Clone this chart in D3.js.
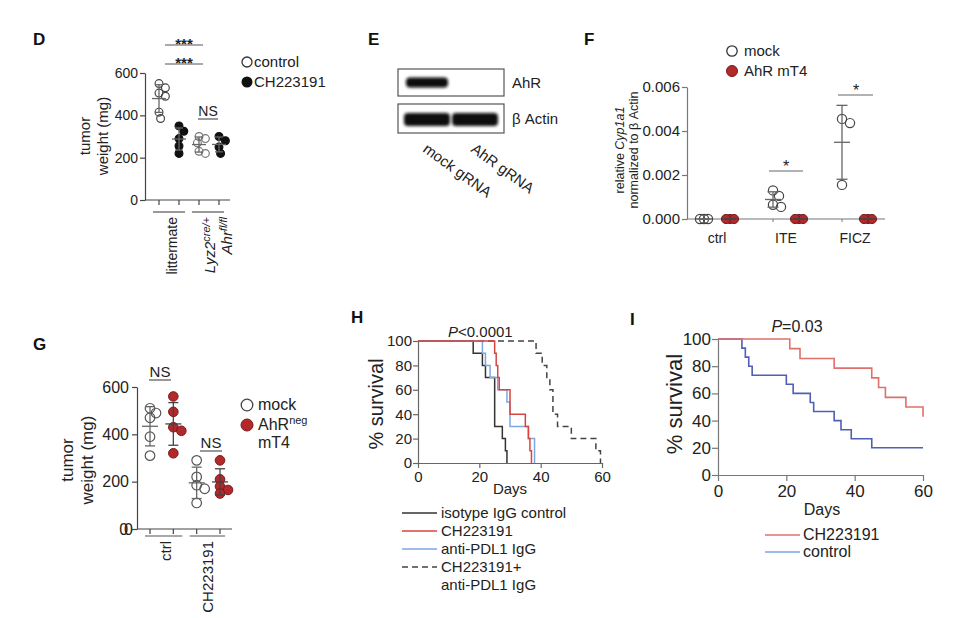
<!DOCTYPE html>
<html><head><meta charset="utf-8">
<script src="https://cdn.jsdelivr.net/npm/d3@7"></script>
<style>
body{margin:0;background:#fff}
svg{display:block;font-family:"Liberation Sans",Arial,Helvetica,sans-serif}
</style></head><body>
<svg id="c" width="960" height="618"></svg>
<script>
// ================= DATA =================
// Panel D – tumor weight (mg)
const dGroups = ["littermate control", "littermate CH223191", "Lyz2 control", "Lyz2 CH223191"];
const dLittermateControl = [550, 530, 505, 490, 415, 385];
const dLittermateCH = [350, 325, 290, 255, 220];
const dLyz2Control = [300, 290, 270, 230, 220];
const dLyz2CH = [300, 280, 250, 220];
const dTicks = [0, 200, 400, 600];
const dSigLabels = ["***", "***", "NS"];
const dLegend = ["control", "CH223191"];

// Panel E – western blot
const blotLanes = ["mock gRNA", "AhR gRNA"];
const blotRows = ["AhR", "β Actin"];
const blotAhR = [1, 0];
const blotActin = [1, 1];

// Panel F – relative Cyp1a1
const fGroups = ["ctrl", "ITE", "FICZ"];
const fMock = [[0, 0, 0], [0.0013, 0.00105, 0.00065, 0.00055], [0.00455, 0.00436, 0.00155]];
const fAhR = [[0, 0, 0], [0, 0, 0], [0, 0, 0]];
const fTicks = [0, 0.002, 0.004, 0.006];
const fLegend = ["mock", "AhR mT4"];

// Panel G – tumor weight (mg)
const gGroups = ["ctrl mock", "ctrl AhRneg", "CH223191 mock", "CH223191 AhRneg"];
const gCtrlMock = [510, 490, 470, 390, 310];
const gCtrlAhR = [560, 495, 430, 415, 320];
const gCHMock = [290, 220, 185, 170, 110];
const gCHAhR = [290, 210, 180, 165, 150];
const gTicks = [0, 200, 400, 600];
const gTickLabels = ["00", "200", "400", "600"];
const gXLabels = ["ctrl", "CH223191"];

// Panel H – survival
const hIsotypeDays = [0, 18, 21, 22, 25, 27.5, 28.5, 29];
const hIsotypeSurv = [100, 90, 80, 70, 30, 20, 10, 0];
const hCHDays = [0, 25, 25.5, 26, 26.5, 30, 35, 36, 36.5, 37];
const hCHSurv = [100, 90, 80, 70, 60, 40, 30, 20, 10, 0];
const hPDL1Days = [0, 21, 22, 23.5, 26, 29, 30, 36, 38];
const hPDL1Surv = [100, 90, 80, 70, 60, 50, 30, 20, 0];
const hComboDays = [0, 38.5, 40.5, 42, 43, 44, 45.5, 50, 58, 59.5];
const hComboSurv = [100, 90, 80, 70, 60, 40, 30, 20, 10, 0];
const hLegend = ["isotype IgG control", "CH223191", "anti-PDL1 IgG", "CH223191+", "anti-PDL1 IgG"];

// Panel I – survival
const iCHDays = [0, 21, 24, 34, 45, 47, 49, 55, 60];
const iCHSurv = [100, 92.9, 85.7, 78.6, 71.4, 64.3, 57.1, 50, 42.9];
const iControlDays = [0, 7, 8, 9, 10, 20, 22, 27, 28, 34, 36, 39, 45, 60];
const iControlSurv = [100, 93.3, 86.7, 80, 73.3, 66.7, 60, 53.3, 46.7, 40, 33.3, 26.7, 20, 20];
const survTicksY = [0, 20, 40, 60, 80, 100];
const survTicksX = [0, 20, 40, 60];
const iLegend = ["CH223191", "control"];

// ================= HELPERS =================
const TXT = "#222", AX = "#444", RED = "#b3282a";
const svg = d3.select("#c");
svg.append("rect").attr("width", 960).attr("height", 618).attr("fill", "#fff");
const defs = svg.append("defs");
defs.append("filter").attr("id", "blur").attr("x", "-30%").attr("y", "-80%")
  .attr("width", "160%").attr("height", "260%")
  .append("feGaussianBlur").attr("stdDeviation", 1.4);

function txt(g, x, y, s, o = {}) {
  const t = g.append("text").attr("x", x).attr("y", y).text(s)
    .attr("font-size", o.size || 14).attr("fill", o.fill || TXT);
  if (o.anchor) t.attr("text-anchor", o.anchor);
  if (o.weight) t.attr("font-weight", o.weight);
  if (o.style) t.attr("font-style", o.style);
  return t;
}
function vtxt(g, x, y, s, o = {}) {
  const t = g.append("text").attr("transform", `translate(${x},${y}) rotate(-90)`)
    .attr("dy", "0.35em").attr("text-anchor", o.anchor || "middle")
    .attr("font-size", o.size || 14).attr("fill", o.fill || TXT);
  if (s !== null) t.text(s);
  if (o.style) t.attr("font-style", o.style);
  return t;
}
function styleAxis(g, size, color) {
  g.attr("font-family", null).attr("font-size", null);
  g.select(".domain").attr("stroke", color).attr("stroke-width", 1.2);
  g.selectAll(".tick line").attr("stroke", color).attr("stroke-width", 1.2);
  g.selectAll(".tick text").attr("font-size", size).attr("fill", TXT);
}
function hline(g, x1, x2, y, color, w) {
  g.append("line").attr("x1", x1).attr("x2", x2).attr("y1", y).attr("y2", y)
    .attr("stroke", color || AX).attr("stroke-width", w || 1.2);
}
function swarm(values, y, d, step) {
  const pts = values.map(v => ({ v, y: y(v) })).sort((a, b) => a.y - b.y);
  const cands = [0];
  for (let k = 1; k <= 14; k++) cands.push(k * step, -k * step);
  const placed = [];
  pts.forEach(p => {
    p.dx = 0;
    for (const c of cands) {
      if (placed.every(q => Math.hypot(q.dx - c, q.y - p.y) >= d - 0.01)) { p.dx = c; break; }
    }
    placed.push(p);
  });
  return pts;
}
function dots(g, values, xc, y, o) {
  g.append("g").selectAll("circle").data(swarm(values, y, o.d, o.step)).join("circle")
    .attr("cx", p => xc + p.dx).attr("cy", p => p.y).attr("r", o.r)
    .attr("fill", o.fill).attr("stroke", o.stroke).attr("stroke-width", o.sw || 1.2);
}
function errBar(g, values, xc, y, o) {
  const m = d3.mean(values), s = values.length > 1 ? d3.deviation(values) : 0;
  const c = o.color || "#555", w = o.sw || 1.3;
  const e = g.append("g").attr("stroke", c).attr("stroke-width", w);
  e.append("line").attr("x1", xc).attr("x2", xc).attr("y1", y(m - s)).attr("y2", y(m + s));
  e.append("line").attr("x1", xc - o.mw).attr("x2", xc + o.mw).attr("y1", y(m)).attr("y2", y(m));
  [m - s, m + s].forEach(v => e.append("line").attr("x1", xc - o.cw).attr("x2", xc + o.cw).attr("y1", y(v)).attr("y2", y(v)));
}

// ================= PANEL D =================
(function () {
  const g = svg.append("g");
  const y = d3.scaleLinear().domain([0, 600]).range([200, 73]);
  const x = d3.scalePoint().domain(dGroups).range([159, 219]);
  const ax0 = 145, ax1 = 230;
  g.append("g").attr("transform", `translate(${ax0},0)`)
    .call(d3.axisLeft(y).tickValues(dTicks).tickSize(5).tickSizeOuter(0).tickPadding(2))
    .call(a => styleAxis(a, 14, AX));
  hline(g, ax0, ax1, y(0));
  g.selectAll(".xt").data(dGroups).join("line").attr("class", "xt")
    .attr("x1", d => x(d)).attr("x2", d => x(d)).attr("y1", y(0)).attr("y2", y(0) + 5)
    .attr("stroke", AX).attr("stroke-width", 1.2);
  const sets = [dLittermateControl, dLittermateCH, dLyz2Control, dLyz2CH];
  const styles = [
    { fill: "none", stroke: "#444" }, { fill: "#111", stroke: "#111" },
    { fill: "none", stroke: "#777" }, { fill: "#111", stroke: "#111" }];
  sets.forEach((vals, i) => {
    dots(g, vals, x(dGroups[i]), y, Object.assign({ r: 3.9, d: 6.5, step: 1.6 }, styles[i]));
    errBar(g, vals, x(dGroups[i]), y, { mw: 7, cw: 4, color: "#666" });
  });
  hline(g, x(dGroups[0]) - 6, x(dGroups[1]) + 6, 212, "#555");
  hline(g, x(dGroups[2]) - 7, x(dGroups[3]) + 5, 212, "#555");
  vtxt(g, (x(dGroups[0]) + x(dGroups[1])) / 2 + 3, 217, "littermate", { anchor: "end", size: 14 });
  const l1 = vtxt(g, (x(dGroups[2]) + x(dGroups[3])) / 2 + 1, 217, null, { anchor: "end", size: 15, style: "italic" });
  l1.append("tspan").text("Lyz2");
  l1.append("tspan").attr("dy", -5).attr("font-size", 11).text("cre/+");
  const l2 = vtxt(g, (x(dGroups[2]) + x(dGroups[3])) / 2 + 18, 217, null, { anchor: "end", size: 15, style: "italic" });
  l2.append("tspan").text("Ahr");
  l2.append("tspan").attr("dy", -5).attr("font-size", 11).text("fl/fl");
  hline(g, 165, 203, 45, "#555");
  txt(g, 184, 49, dSigLabels[0], { anchor: "middle", size: 15, weight: "bold" });
  hline(g, 165, 203, 64, "#555");
  txt(g, 184, 68, dSigLabels[1], { anchor: "middle", size: 15, weight: "bold" });
  hline(g, 198, 218, 119, "#555");
  txt(g, 208, 116, dSigLabels[2], { anchor: "middle", size: 14 });
  vtxt(g, 85, 136, "tumor", { size: 15 });
  vtxt(g, 103, 136, "weight (mg)", { size: 15 });
  g.append("circle").attr("cx", 247).attr("cy", 62).attr("r", 5).attr("fill", "none").attr("stroke", "#333").attr("stroke-width", 1.3);
  txt(g, 254, 67, dLegend[0], { size: 15 });
  g.append("circle").attr("cx", 247).attr("cy", 82).attr("r", 5.5).attr("fill", "#111");
  txt(g, 254, 87, dLegend[1], { size: 15 });
  txt(g, 33, 45, "D", { size: 17, weight: "bold", fill: "#111" });
})();

// ================= PANEL E =================
(function () {
  const g = svg.append("g");
  const lane = d3.scaleBand().domain(blotLanes).range([403, 499]);
  const boxes = [{ y: 69, h: 27, vals: blotAhR, bh: 10, inset: 3 }, { y: 104, h: 29, vals: blotActin, bh: 13, inset: 1 }];
  boxes.forEach((b, r) => {
    g.selectAll(null).data(blotLanes).join("rect")
      .attr("x", d => lane(d) + b.inset).attr("width", lane.bandwidth() - 2 * b.inset)
      .attr("y", b.y + b.h / 2 - b.bh / 2 + (r === 0 ? 0 : 1)).attr("height", b.bh).attr("rx", 4)
      .attr("fill", "#0c0c0c").attr("opacity", (d, i) => b.vals[i]).attr("filter", "url(#blur)");
    g.append("rect").attr("x", 398).attr("y", b.y).attr("width", 106).attr("height", b.h)
      .attr("fill", "none").attr("stroke", "#555").attr("stroke-width", 1.2);
    txt(g, 512, b.y + b.h / 2 + 5, blotRows[r], { size: 15 });
  });
  blotLanes.forEach((l, i) => {
    g.append("text").attr("transform", `translate(${lane(l) + 19},${151}) rotate(36)`)
      .attr("font-size", 15).attr("fill", TXT).text(l);
  });
  txt(g, 368, 45, "E", { size: 17, weight: "bold", fill: "#111" });
})();

// ================= PANEL F =================
(function () {
  const g = svg.append("g");
  const GA = "#777";
  const y = d3.scaleLinear().domain([0, 0.006]).range([219, 87]);
  const x = d3.scalePoint().domain(fGroups).range([717, 855]);
  const ax0 = 687, ax1 = 885;
  g.append("g").attr("transform", `translate(${ax0},0)`)
    .call(d3.axisLeft(y).tickValues(fTicks).tickSize(5).tickSizeOuter(0).tickPadding(2).tickFormat(d3.format(".3f")))
    .call(a => styleAxis(a, 15, GA));
  hline(g, ax0, ax1, y(0), GA);
  fGroups.forEach((grp, i) => {
    txt(g, x(grp), 243, grp, { anchor: "middle", size: 14 });
    const xm = x(grp) - 13, xa = x(grp) + 13;
    [xm, xa].forEach(xx => g.append("line").attr("x1", xx).attr("x2", xx).attr("y1", y(0)).attr("y2", y(0) + 3).attr("stroke", GA));
    const dm = d3.max(fMock[i]) === 0 ? 4 : 8;
    dots(g, fMock[i], xm, y, { r: 4.6, d: dm, step: 2, fill: "none", stroke: "#444" });
    dots(g, fAhR[i], xa, y, { r: 4.6, d: 4, step: 2, fill: RED, stroke: "#7a1a1a", sw: 1 });
    errBar(g, fMock[i], xm, y, { mw: 8, cw: 5.5, color: "#666" });
    errBar(g, fAhR[i], xa, y, { mw: 8, cw: 5.5, color: "#444" });
  });
  hline(g, 769, 803, 171, "#666");
  txt(g, 786, 172, "*", { anchor: "middle", size: 16 });
  hline(g, 838, 873, 95, "#666");
  txt(g, 856, 96, "*", { anchor: "middle", size: 16 });
  const t1 = vtxt(g, 620, 150, null, { size: 12.5 });
  t1.append("tspan").text("relative ");
  t1.append("tspan").attr("font-style", "italic").text("Cyp1a1");
  vtxt(g, 634, 150, "normalized to β Actin", { size: 12.5 });
  g.append("circle").attr("cx", 732).attr("cy", 51).attr("r", 5.2).attr("fill", "none").attr("stroke", "#333").attr("stroke-width", 1.3);
  txt(g, 744, 56, fLegend[0], { size: 15 });
  g.append("circle").attr("cx", 732).attr("cy", 71).attr("r", 5.5).attr("fill", RED).attr("stroke", "#7a1a1a");
  txt(g, 744, 76, fLegend[1], { size: 15 });
  txt(g, 584, 45, "F", { size: 17, weight: "bold", fill: "#111" });
})();

// ================= PANEL G =================
(function () {
  const g = svg.append("g");
  const y = d3.scaleLinear().domain([0, 600]).range([529, 387]);
  const x = d3.scalePoint().domain(gGroups).range([150, 220]);
  const ax0 = 137, ax1 = 232;
  g.append("g").attr("transform", `translate(${ax0},0)`)
    .call(d3.axisLeft(y).tickValues(gTicks).tickSize(5).tickSizeOuter(0).tickPadding(3)
      .tickFormat((d, i) => gTickLabels[i]))
    .call(a => styleAxis(a, 16, AX))
    .call(a => a.selectAll(".tick text").filter((d, i) => i === 0).attr("letter-spacing", -4));
  hline(g, ax0, ax1, y(0));
  g.selectAll(".xt").data(gGroups).join("line").attr("class", "xt")
    .attr("x1", d => x(d)).attr("x2", d => x(d)).attr("y1", y(0)).attr("y2", y(0) + 5)
    .attr("stroke", AX).attr("stroke-width", 1.2);
  const sets = [gCtrlMock, gCtrlAhR, gCHMock, gCHAhR];
  sets.forEach((vals, i) => {
    const mock = i % 2 === 0;
    dots(g, vals, x(gGroups[i]), y, mock
      ? { r: 4.8, d: 7, step: 2, fill: "none", stroke: "#555" }
      : { r: 4.8, d: 7, step: 2, fill: RED, stroke: "#7a1a1a", sw: 1 });
    errBar(g, vals, x(gGroups[i]), y, { mw: 8, cw: 5, color: mock ? "#666" : "#444" });
  });
  hline(g, x(gGroups[0]) - 5, x(gGroups[1]) + 9, 536, "#555");
  hline(g, x(gGroups[2]) - 7, x(gGroups[3]) + 5, 536, "#555");
  vtxt(g, (x(gGroups[0]) + x(gGroups[1])) / 2 + 4, 541, gXLabels[0], { anchor: "end", size: 15 });
  vtxt(g, (x(gGroups[2]) + x(gGroups[3])) / 2 - 1, 541, gXLabels[1], { anchor: "end", size: 15 });
  hline(g, 149, 171, 380, "#555");
  txt(g, 160, 377, "NS", { anchor: "middle", size: 15 });
  hline(g, 200, 222, 451, "#555");
  txt(g, 211, 448, "NS", { anchor: "middle", size: 15 });
  vtxt(g, 67, 460, "tumor", { size: 17 });
  vtxt(g, 87, 460, "weight (mg)", { size: 17 });
  g.append("circle").attr("cx", 247).attr("cy", 405).attr("r", 5.8).attr("fill", "none").attr("stroke", "#444").attr("stroke-width", 1.3);
  txt(g, 258, 410, "mock", { size: 16 });
  g.append("circle").attr("cx", 247).attr("cy", 425).attr("r", 6).attr("fill", RED).attr("stroke", "#7a1a1a");
  const lt = txt(g, 258, 430, "AhR", { size: 16 });
  lt.append("tspan").attr("dy", -6).attr("font-size", 11).text("neg");
  txt(g, 258, 448, "mT4", { size: 16 });
  txt(g, 33, 350, "G", { size: 17, weight: "bold", fill: "#111" });
})();

// ================= PANEL H =================
(function () {
  const g = svg.append("g");
  const GA = "#666";
  const x = d3.scaleLinear().domain([0, 60]).range([418, 602]);
  const y = d3.scaleLinear().domain([0, 100]).range([463, 341]);
  g.append("g").attr("transform", `translate(${x(0)},0)`)
    .call(d3.axisLeft(y).tickValues(survTicksY).tickSize(5).tickSizeOuter(0).tickPadding(1))
    .call(a => styleAxis(a, 15, GA));
  g.append("g").attr("transform", `translate(0,${y(0)})`)
    .call(d3.axisBottom(x).tickValues(survTicksX).tickSize(5).tickSizeOuter(0).tickPadding(3))
    .call(a => styleAxis(a, 15, GA));
  const line = d3.line().x(d => x(d[0])).y(d => y(d[1])).curve(d3.curveStepAfter);
  const series = [
    { days: hComboDays, surv: hComboSurv, color: "#444", dash: "6,4" },
    { days: hIsotypeDays, surv: hIsotypeSurv, color: "#333" },
    { days: hPDL1Days, surv: hPDL1Surv, color: "#7ea6e3" },
    { days: hCHDays, surv: hCHSurv, color: "#d8453f" }];
  series.forEach(s => {
    g.append("path").attr("d", line(d3.zip(s.days, s.surv))).attr("fill", "none")
      .attr("stroke", s.color).attr("stroke-width", 1.5).attr("stroke-dasharray", s.dash || null);
  });
  txt(g, 510, 494, "Days", { anchor: "middle", size: 15 });
  vtxt(g, 376, 404, "% survival", { size: 20 });
  const p = txt(g, 448, 337, null, { size: 15 });
  p.append("tspan").attr("font-style", "italic").text("P");
  p.append("tspan").text("<0.0001");
  const leg = [
    { color: "#333" }, { color: "#d8453f" }, { color: "#7ea6e3" }, { color: "#444", dash: "6,4" }];
  const rows = [518, 536, 554, 572, 590];
  hLegend.forEach((l, i) => {
    if (i < 4) {
      g.append("line").attr("x1", 402).attr("x2", 437).attr("y1", rows[i] - 5).attr("y2", rows[i] - 5)
        .attr("stroke", leg[i].color).attr("stroke-width", 1.5).attr("stroke-dasharray", leg[i].dash || null);
    }
    txt(g, 441, rows[i], l, { size: 15 });
  });
  txt(g, 351, 323, "H", { size: 17, weight: "bold", fill: "#111" });
})();

// ================= PANEL I =================
(function () {
  const g = svg.append("g");
  const GA = "#777";
  const x = d3.scaleLinear().domain([0, 60]).range([718, 923]);
  const y = d3.scaleLinear().domain([0, 100]).range([475, 339]);
  g.append("g").attr("transform", `translate(${x(0)},0)`)
    .call(d3.axisLeft(y).tickValues(survTicksY).tickSize(6).tickSizeOuter(0).tickPadding(1))
    .call(a => styleAxis(a, 17, GA));
  g.append("g").attr("transform", `translate(0,${y(0)})`)
    .call(d3.axisBottom(x).tickValues(survTicksX).tickSize(6).tickSizeOuter(0).tickPadding(4))
    .call(a => styleAxis(a, 17, GA));
  const line = d3.line().x(d => x(d[0])).y(d => y(d[1])).curve(d3.curveStepAfter);
  const series = [
    { days: iControlDays, surv: iControlSurv, color: "#4f5eb6" },
    { days: iCHDays, surv: iCHSurv, color: "#e0706b" }];
  series.forEach(s => {
    g.append("path").attr("d", line(d3.zip(s.days, s.surv))).attr("fill", "none")
      .attr("stroke", s.color).attr("stroke-width", 1.6);
  });
  txt(g, 822, 515, "Days", { anchor: "middle", size: 16 });
  vtxt(g, 674, 404, "% survival", { size: 22 });
  const p = txt(g, 797, 332, null, { size: 16, anchor: "middle" });
  p.append("tspan").attr("font-style", "italic").text("P");
  p.append("tspan").text("=0.03");
  const cols = ["#e0706b", "#7ea6e3"];
  iLegend.forEach((l, i) => {
    const yy = 540 + i * 17;
    g.append("line").attr("x1", 765).attr("x2", 800).attr("y1", yy - 5).attr("y2", yy - 5)
      .attr("stroke", cols[i]).attr("stroke-width", 1.5);
    txt(g, 803, yy, l, { size: 16 });
  });
  txt(g, 630, 325, "I", { size: 17, weight: "bold", fill: "#111" });
})();
</script>
</body></html>
